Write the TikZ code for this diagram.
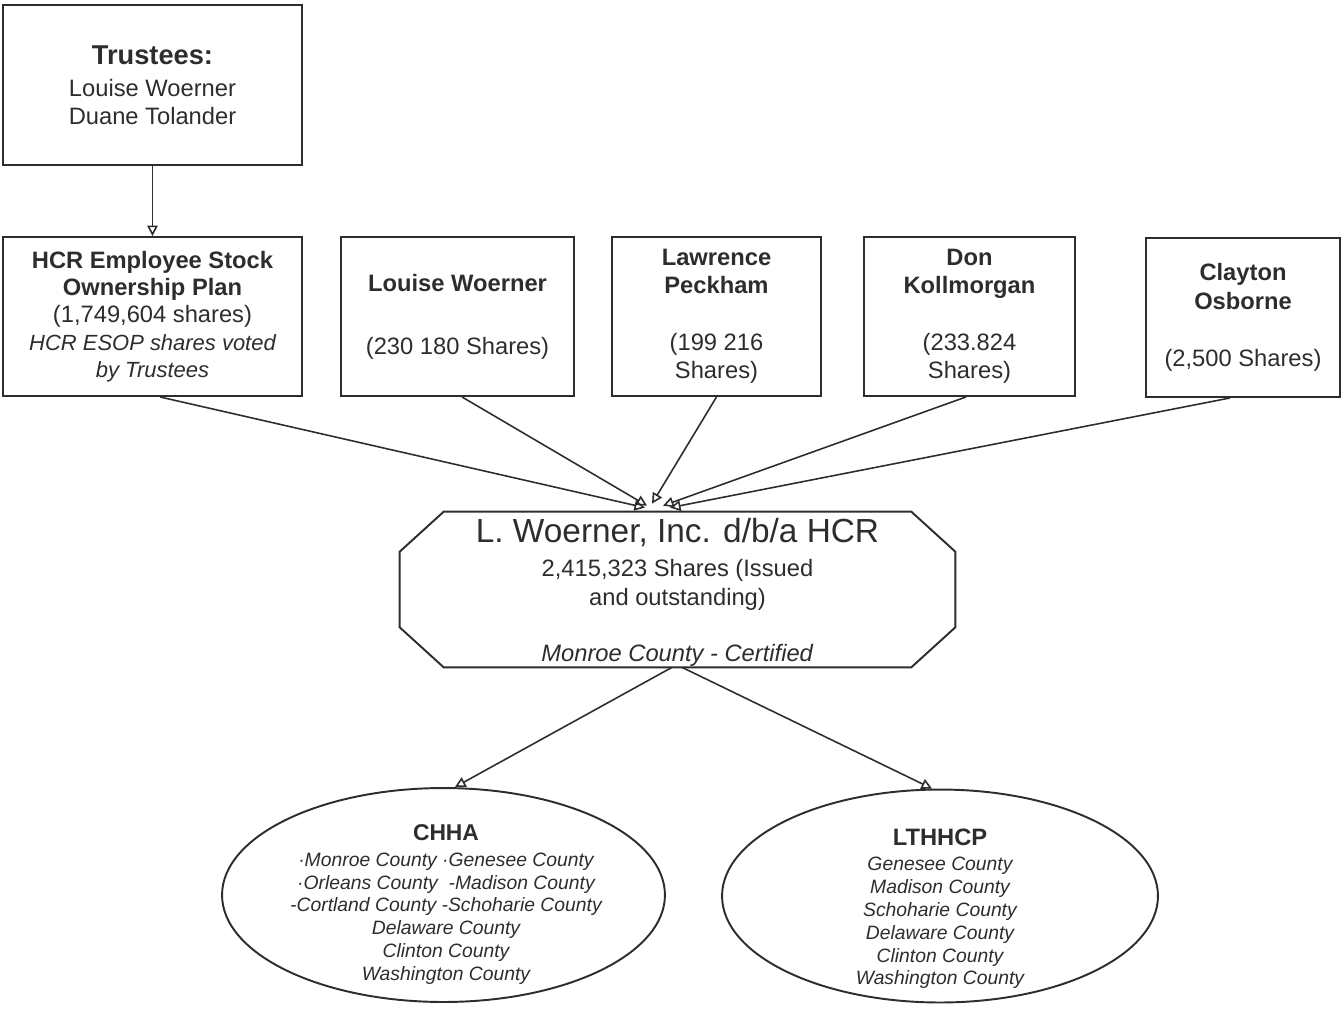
\documentclass[tikz,border=0pt]{standalone}
\usepackage{fontspec}
\setmainfont{Liberation Sans}
\usetikzlibrary{arrows.meta,calc,shapes.geometric}
\definecolor{ink}{RGB}{45,45,45}
\begin{document}
\begin{tikzpicture}[x=0.02cm,y=-0.02cm,
  every node/.style={text=ink},
  box/.style={draw=ink, line width=1.1pt, rectangle, inner sep=0pt, align=center,
              font=\fontsize{13.5}{16.2}\selectfont},
  link/.style={draw=ink, line width=0.9pt, -{Triangle[open,length=6pt,width=6pt]}},
  oval/.style={draw=ink, line width=1.1pt, ellipse, inner sep=0pt},
  outline/.style={draw=ink, line width=1.1pt, line join=miter},
  listtext/.style={align=center, inner sep=0pt, font=\fontsize{11}{13}\selectfont\itshape}
]
\path[use as bounding box] (0,0) rectangle (1342,1015);

% --- owners ---
\node[box, minimum width=5.98cm, minimum height=3.2cm] (trustees) at (152.5,85)
  {{\fontsize{15.5}{18}\selectfont\bfseries Trustees:}\\[2pt] Louise Woerner\\ Duane Tolander};

\node[box, minimum width=5.98cm, minimum height=3.18cm, font=\fontsize{13.5}{15.6}\selectfont] (esop) at (152.5,316.5)
  {\textbf{HCR Employee Stock}\\ \textbf{Ownership Plan}\\ (1,749,604 shares)\\
   {\fontsize{12.5}{15}\selectfont\itshape HCR ESOP shares voted}\\
   {\fontsize{12.5}{15}\selectfont\itshape by Trustees}};

\node[box, minimum width=4.66cm, minimum height=3.18cm] (louise) at (457.5,316.5)
  {\textbf{Louise Woerner}\\[19.5pt] (230 180 Shares)};

\node[box, minimum width=4.18cm, minimum height=3.18cm] (lawrence) at (716.5,316.5)
  {\textbf{Lawrence}\\ \textbf{Peckham}\\[16pt] (199 216\\ Shares)};

\node[box, minimum width=4.22cm, minimum height=3.18cm] (don) at (969.5,316.5)
  {\textbf{Don}\\ \textbf{Kollmorgan}\\[16pt] (233.824\\ Shares)};

\node[box, minimum width=3.88cm, minimum height=3.18cm] (clayton) at (1243,317.5)
  {\textbf{Clayton}\\ \textbf{Osborne}\\[16.5pt] (2,500 Shares)};

% --- company (octagon drawn around the node) ---
\node[minimum width=11.1cm, minimum height=3.1cm, inner sep=0pt, align=center,
      font=\fontsize{13.5}{16.4}\selectfont] (hcr) at (677.5,589.5)
  {{\fontsize{19}{22}\selectfont\rule{0pt}{16.8pt}L. Woerner, Inc. d/b/a HCR}\\[3.4pt]
   2,415,323 Shares (Issued\\ and outstanding)\\[15.3pt]
   \textit{Monroe County - Certified}};
\draw[outline]
  ($(hcr.north west)+(0.88cm,0)$) -- ($(hcr.north east)+(-0.88cm,0)$)
  -- ($(hcr.north east)+(0,-0.8cm)$) -- ($(hcr.south east)+(0,0.8cm)$)
  -- ($(hcr.south east)+(-0.88cm,0)$) -- ($(hcr.south west)+(0.88cm,0)$)
  -- ($(hcr.south west)+(0,0.8cm)$) -- ($(hcr.north west)+(0,-0.8cm)$) -- cycle;

% --- agencies ---
\node[oval, minimum width=8.86cm, minimum height=4.28cm] (chha) at (443.5,895) {};
\node[listtext] (chhatext) at (446,904.5)
  {{\fontsize{13}{15}\selectfont\upshape\bfseries CHHA}\\[1.7pt]
   ·Monroe County ·Genesee County\\
   ·Orleans County~~-Madison County\\
   -Cortland County -Schoharie County\\
   Delaware County\\ Clinton County\\ Washington County};

\node[oval, minimum width=8.72cm, minimum height=4.26cm] (lthhcp) at (940,896) {};
\node[listtext] (lthhcptext) at (940,909)
  {{\fontsize{13.5}{15}\selectfont\upshape\bfseries LTHHCP}\\[1.2pt]
   Genesee County\\ Madison County\\ Schoharie County\\
   Delaware County\\ Clinton County\\ Washington County};

% --- ownership links ---
\draw[link] (trustees.south) -- (esop.north);
\draw[link] ([xshift=0.15cm]esop.south) -- ([xshift=-0.65cm,yshift=0.08cm]hcr.north);
\draw[link] ([xshift=0.09cm]louise.south) -- ([xshift=-0.61cm,yshift=0.12cm]hcr.north);
\draw[link] (lawrence.south) -- ([xshift=-0.51cm,yshift=0.16cm]hcr.north);
\draw[link] ([xshift=-0.07cm]don.south) -- ([xshift=-0.29cm,yshift=0.12cm]hcr.north);
\draw[link] ([xshift=-0.26cm]clayton.south) -- ([xshift=-0.15cm,yshift=0.08cm]hcr.north);

\draw[link] ([xshift=-0.11cm]hcr.south) -- ([xshift=0.23cm]chha.north);
\draw[link] ([xshift=0.09cm]hcr.south) -- ([xshift=-0.16cm]lthhcp.north);
\end{tikzpicture}
\end{document}
